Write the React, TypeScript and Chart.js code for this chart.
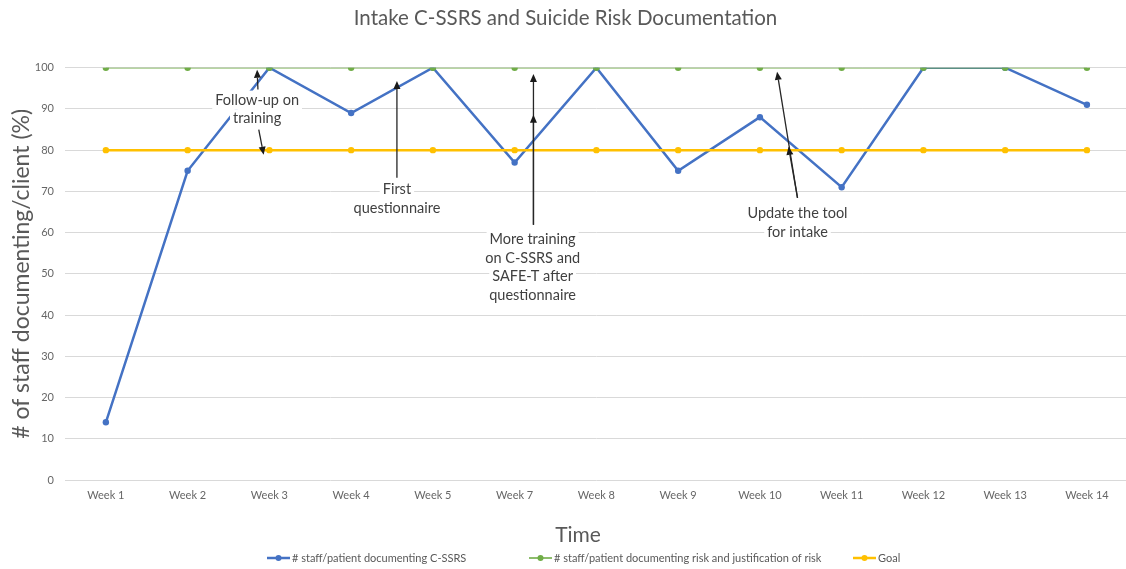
import React, { useEffect, useRef } from "react";
import { Chart, registerables } from "chart.js";

Chart.register(...registerables);

const FONT = "Lato, 'Open Sans', sans-serif";

const chartTitle = "Intake C-SSRS and Suicide Risk Documentation";
const yAxisTitle = "# of staff documenting/client (%)";
const xAxisTitle = "Time";

const weeks = [
  "Week 1", "Week 2", "Week 3", "Week 4", "Week 5", "Week 7", "Week 8",
  "Week 9", "Week 10", "Week 11", "Week 12", "Week 13", "Week 14",
];

const seriesNames = [
  "# staff/patient documenting C-SSRS",
  "# staff/patient documenting risk and justification of risk",
  "Goal",
];

const cssrsValues = [14, 75, 100, 89, 100, 77, 100, 75, 88, 71, 100, 100, 91];
const riskValues = [100, 100, 100, 100, 100, 100, 100, 100, 100, 100, 100, 100, 100];
const goalValues = [80, 80, 80, 80, 80, 80, 80, 80, 80, 80, 80, 80, 80];

const seriesColors = ["#4472C4", "#70AD47", "#FFC000"];

// annotation callouts (x = category index, y = value of first text line)
const noteTexts = [
  ["Follow-up on", "training"],
  ["First", "questionnaire"],
  ["More training", "on C-SSRS and", "SAFE-T after", "questionnaire"],
  ["Update the tool", "for intake"],
];
const noteX = [1.85, 3.56, 5.22, 8.46];
const noteY = [92.2, 70.4, 58.3, 64.6];

// arrows: [fromIndex, fromValue, toIndex, toValue]
const noteArrows = [
  [1.86, 94.7, 1.85, 99.5],
  [1.87, 85.0, 1.93, 78.9],
  [3.56, 73.3, 3.56, 96.8],
  [5.23, 61.9, 5.23, 98.5],
  [5.23, 61.9, 5.23, 88.6],
  [8.46, 68.4, 8.21, 99.0],
  [8.46, 68.4, 8.35, 80.8],
];

const overlayPlugin = {
  id: "overlay",
  afterDatasetsDraw(chart: any) {
    const { ctx } = chart;
    const x = chart.scales.x;
    const y = chart.scales.y;
    ctx.save();
    ctx.font = `14.5px ${FONT}`;
    ctx.textAlign = "center";
    ctx.textBaseline = "middle";
    const lh = 18.5;
    noteTexts.forEach((lines, i) => {
      const cx = x.getPixelForValue(noteX[i]);
      const cy = y.getPixelForValue(noteY[i]);
      lines.forEach((l, j) => {
        const w = ctx.measureText(l).width;
        ctx.fillStyle = "#ffffff";
        ctx.fillRect(cx - w / 2 - 3, cy + j * lh - lh / 2, w + 6, lh);
      });
      ctx.fillStyle = "#404040";
      lines.forEach((l, j) => ctx.fillText(l, cx, cy + j * lh));
    });
    ctx.strokeStyle = "#262626";
    ctx.fillStyle = "#1a1a1a";
    ctx.lineWidth = 1.3;
    noteArrows.forEach(([fi, fv, ti, tv]) => {
      const x1 = x.getPixelForValue(fi);
      const y1 = y.getPixelForValue(fv);
      const x2 = x.getPixelForValue(ti);
      const y2 = y.getPixelForValue(tv);
      const ang = Math.atan2(y2 - y1, x2 - x1);
      const L = 8;
      const W = 3.5;
      const bx = x2 - L * Math.cos(ang);
      const by = y2 - L * Math.sin(ang);
      ctx.beginPath();
      ctx.moveTo(x1, y1);
      ctx.lineTo(bx, by);
      ctx.stroke();
      ctx.beginPath();
      ctx.moveTo(x2, y2);
      ctx.lineTo(bx + W * Math.sin(ang), by - W * Math.cos(ang));
      ctx.lineTo(bx - W * Math.sin(ang), by + W * Math.cos(ang));
      ctx.closePath();
      ctx.fill();
    });
    ctx.restore();
  },
  afterDraw(chart: any) {
    const { ctx } = chart;
    ctx.save();
    // x axis title
    ctx.font = `21px ${FONT}`;
    ctx.fillStyle = "#595959";
    ctx.textAlign = "center";
    ctx.textBaseline = "middle";
    ctx.fillText(xAxisTitle, 578, 535);
    // legend
    const starts = [267, 529, 853];
    const ly = 558;
    ctx.font = `11px ${FONT}`;
    ctx.textAlign = "left";
    starts.forEach((sx, i) => {
      const ds = chart.data.datasets[i];
      ctx.strokeStyle = ds.borderColor;
      ctx.lineWidth = ds.borderWidth;
      ctx.beginPath();
      ctx.moveTo(sx, ly);
      ctx.lineTo(sx + 23, ly);
      ctx.stroke();
      ctx.fillStyle = ds.borderColor;
      ctx.beginPath();
      ctx.arc(sx + 11.5, ly, 3, 0, Math.PI * 2);
      ctx.fill();
      ctx.fillStyle = "#595959";
      ctx.fillText(ds.label, sx + 25, ly);
    });
    ctx.restore();
  },
};

export default function App() {
  const canvasRef = useRef<HTMLCanvasElement | null>(null);

  useEffect(() => {
    if (!canvasRef.current) return;
    const mk = (i: number, data: number[], width: number, order: number) => ({
      label: seriesNames[i],
      data,
      borderColor: seriesColors[i],
      backgroundColor: seriesColors[i],
      borderWidth: width,
      pointRadius: 3.2,
      pointHoverRadius: 3.2,
      pointBorderWidth: 0,
      tension: 0,
      order,
    });
    const chart = new Chart(canvasRef.current, {
      type: "line",
      data: {
        labels: weeks,
        datasets: [
          mk(0, cssrsValues, 2.5, 3),
          mk(1, riskValues, 1.6, 2),
          mk(2, goalValues, 2.5, 1),
        ],
      },
      plugins: [overlayPlugin],
      options: {
        animation: false,
        responsive: false,
        devicePixelRatio: 1,
        layout: { padding: 0 },
        plugins: {
          legend: { display: false },
          tooltip: { enabled: false },
          title: {
            display: true,
            text: chartTitle,
            color: "#595959",
            font: { family: FONT, size: 20.5, weight: "normal" },
            padding: { top: 5.7, bottom: 37.4 },
          },
        },
        scales: {
          x: {
            offset: true,
            grid: { display: false, drawTicks: false },
            border: { display: false },
            ticks: {
              color: "#666666",
              font: { family: FONT, size: 11 },
              padding: 9,
              maxRotation: 0,
              autoSkip: false,
            },
            afterFit: (s: any) => {
              s.height = 89;
            },
          },
          y: {
            min: 0,
            max: 100,
            grid: { color: "#d9d9d9", lineWidth: 1, drawTicks: false },
            border: { display: false },
            ticks: {
              stepSize: 10,
              color: "#666666",
              font: { family: FONT, size: 11 },
              padding: 11,
            },
            title: {
              display: true,
              text: yAxisTitle,
              color: "#595959",
              font: { family: FONT, size: 23, weight: "normal" },
              padding: { top: 8, bottom: 0 },
            },
            afterFit: (s: any) => {
              s.width = 65;
            },
          },
        },
      },
    });
    return () => chart.destroy();
  }, []);

  return (
    <div
      style={{
        position: "fixed",
        left: 0,
        top: 0,
        width: 1126,
        height: 569,
        overflow: "hidden",
        background: "#ffffff",
      }}
    >
      <canvas ref={canvasRef} width={1131} height={569} style={{ display: "block" }} />
    </div>
  );
}
